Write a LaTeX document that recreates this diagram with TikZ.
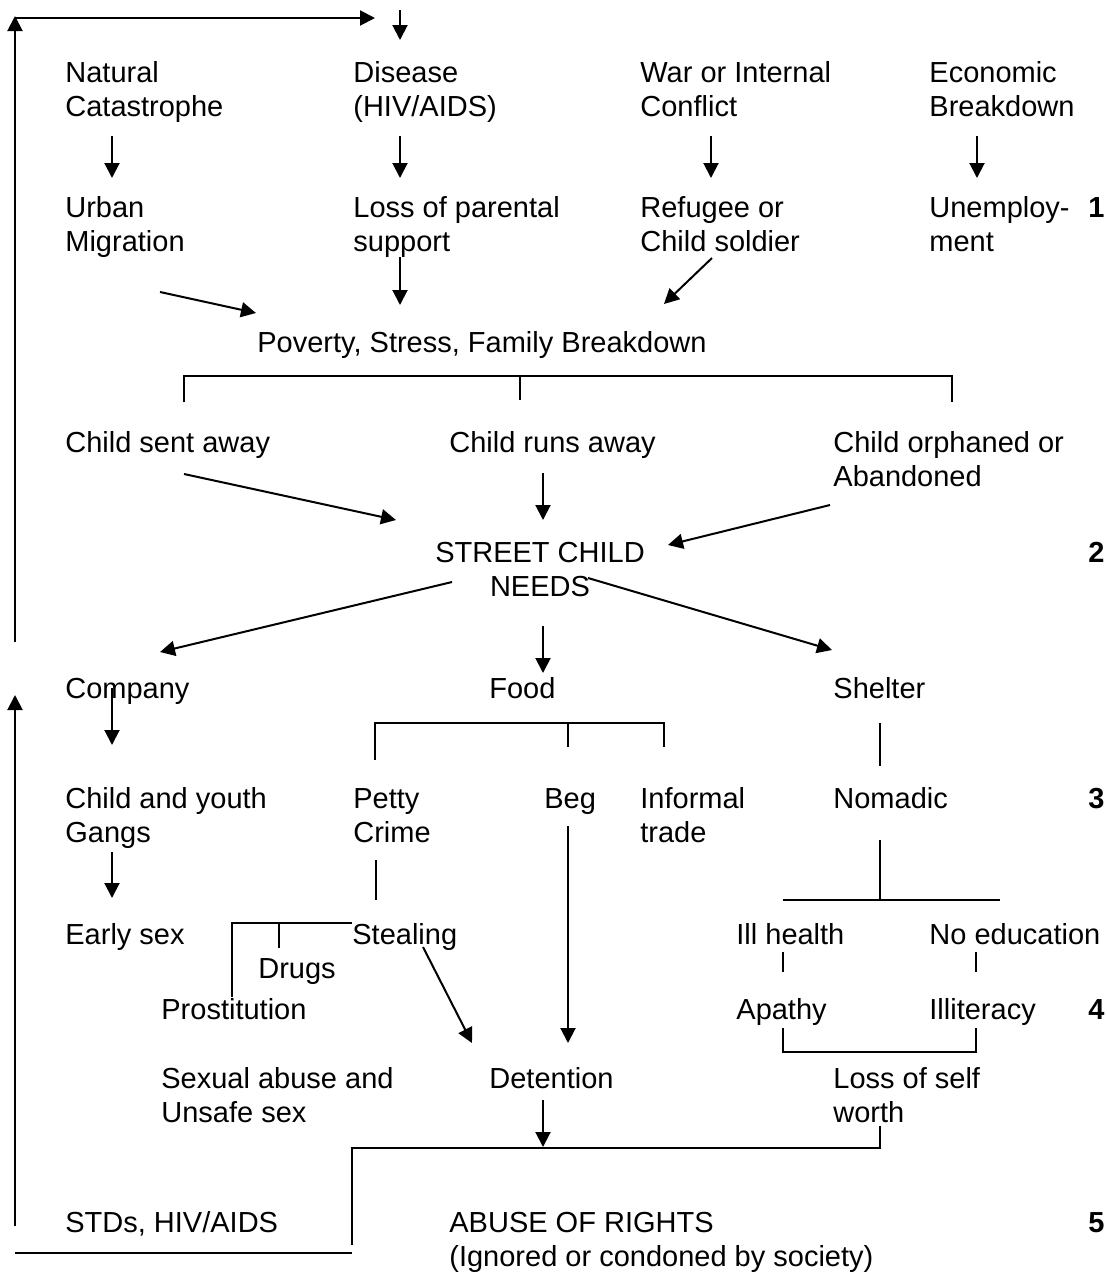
\documentclass[tikz,border=0pt]{standalone}
\usepackage{fontspec}
\setmainfont{Liberation Sans}
\usetikzlibrary{arrows.meta}

\tikzset{
  lbl/.style={anchor=base west, inner sep=0pt, align=left, font=\fontsize{14.5}{17}\selectfont},
  num/.style={anchor=base west, inner sep=0pt, font=\fontsize{14.5}{17}\selectfont\bfseries},
  arr/.style={line width=1pt, -{Triangle[length=7.5pt,width=7.5pt]}},
  ln/.style={line width=1pt},
}

\begin{document}
\begin{tikzpicture}[x=0.5pt,y=-0.5pt]
\useasboundingbox (0,0) rectangle (1107,1275);

% level 1 (multi-line nodes sit on their last baseline)
\node[lbl] (natural) at (65,116) {Natural\\Catastrophe};
\node[lbl] (disease) at (353,116) {Disease\\(HIV/AIDS)};
\node[lbl] (war) at (640,116) {War or Internal\\Conflict};
\node[lbl] (econ) at (929,116) {Economic\\Breakdown};
\node[lbl] (urban) at (65,251) {Urban\\Migration};
\node[lbl] (lossparent) at (353,251) {Loss of parental\\support};
\node[lbl] (refugee) at (640,251) {Refugee or\\Child soldier};
\node[lbl] (unemploy) at (929,251) {Unemploy-\\ment};
\node[num] (n1) at (1088,217) {1};
\node[lbl] (poverty) at (257,352) {Poverty, Stress, Family Breakdown};

% level 2
\node[lbl] (sentaway) at (65,452) {Child sent away};
\node[lbl] (runsaway) at (449,452) {Child runs away};
\node[lbl] (orphaned) at (833,486) {Child orphaned or\\Abandoned};
\node[lbl, anchor=base, align=center] (street) at (540,596) {STREET CHILD\\NEEDS};
\node[num] (n2) at (1088,562) {2};

% level 3
\node[lbl] (company) at (65,698) {Company};
\node[lbl] (food) at (489,698) {Food};
\node[lbl] (shelter) at (833,698) {Shelter};
\node[lbl] (gangs) at (65,842) {Child and youth\\Gangs};
\node[lbl] (petty) at (353,842) {Petty\\Crime};
\node[lbl] (beg) at (544,808) {Beg};
\node[lbl] (informal) at (640,842) {Informal\\trade};
\node[lbl] (nomadic) at (833,808) {Nomadic};
\node[num] (n3) at (1088,808) {3};

% level 4
\node[lbl] (earlysex) at (65,944) {Early sex};
\node[lbl] (stealing) at (352,944) {Stealing};
\node[lbl] (drugs) at (258,978) {Drugs};
\node[lbl] (prostitution) at (161,1019) {Prostitution};
\node[lbl] (illhealth) at (736,944) {Ill health};
\node[lbl] (noedu) at (929,944) {No education};
\node[lbl] (apathy) at (736,1019) {Apathy};
\node[lbl] (illiteracy) at (929,1019) {Illiteracy};
\node[num] (n4) at (1088,1019) {4};
\node[lbl] (sexabuse) at (161,1122) {Sexual abuse and\\Unsafe sex};
\node[lbl] (detention) at (489,1088) {Detention};
\node[lbl] (selfworth) at (833,1122) {Loss of self\\worth};

% level 5
\node[lbl] (stds) at (65,1232) {STDs, HIV/AIDS};
\node[lbl] (abuse) at (449,1266) {ABUSE OF RIGHTS\\(Ignored or condoned by society)};
\node[num] (n5) at (1088,1232) {5};

% connector ends
\foreach \n/\x/\y in {topA/400/10, topB/400/40,
    natS/112/136, urbN/112/178, disS/400/136, lossN/400/178,
    warS/711/136, refN/711/178, ecoS/977/136, uneN/977/178,
    urbS/160/292, povW/256/313, lossS/400/257, povN/400/305,
    refS/712/258, povE/664/304,
    brL/184/402, brLt/184/376, brRt/952/376, brR/952/402, brMt/520/376, brM/520/400,
    sentS/184/474, strW/396/520, runsS/543/473, strN/543/520,
    orphS/830/505, strE/668/545,
    strSW/452/582, compN/160/652, strS/543/626, foodN/543/673,
    strSE/588/578, shelN/832/650,
    compS/112/688, gangN/112/745, gangS/112/852, earlyN/112/898,
    begS/568/826, detNE/568/1043, stealS/423/947, detNW/472/1043,
    detS/543/1100, abuseN/543/1147,
    stdsW/15/1226, compW/15/695,
    loopA/15/642, loopB/15/16, loopC/15/18, loopD/375/18,
    foodL/375/760, foodLt/375/723, foodRt/664/723, foodR/664/747,
    foodMt/568/723, foodM/568/747,
    shelS/880/723, nomN/880/766,
    pettyS/376/860, stealN/376/900,
    stealW/352/923, stealT/232/923, prostN/232/997, drugT/279/923, drugN/279/948,
    nomS/880/840, nomB/880/900, nomL/783/900, nomR/1000/900,
    illS/783/952, apaN/783/972, noeS/976/952, illiN/976/972,
    apaS/783/1028, apaB/783/1052, illiB/976/1052, illiS/976/1028,
    worthS/880/1126, worthB/880/1148, stdsC/352/1148, stdsE/352/1245,
    stdsL/15/1253, stdsR/352/1253}
  \coordinate (\n) at (\x,\y);

% arrows
\foreach \a/\b in {topA/topB, natS/urbN, disS/lossN, warS/refN, ecoS/uneN,
    urbS/povW, lossS/povN, refS/povE,
    sentS/strW, runsS/strN, orphS/strE,
    strSW/compN, strS/foodN, strSE/shelN,
    compS/gangN, gangS/earlyN, begS/detNE, stealS/detNW, detS/abuseN,
    stdsW/compW, loopA/loopB, loopC/loopD}
  \draw[arr] (\a) -- (\b);

% plain lines
\draw[ln] (brL) -- (brLt) -- (brRt) -- (brR);
\draw[ln] (brMt) -- (brM);
\draw[ln] (foodL) -- (foodLt) -- (foodRt) -- (foodR);
\draw[ln] (foodMt) -- (foodM);
\draw[ln] (shelS) -- (nomN);
\draw[ln] (pettyS) -- (stealN);
\draw[ln] (stealW) -- (stealT) -- (prostN);
\draw[ln] (drugT) -- (drugN);
\draw[ln] (nomS) -- (nomB);
\draw[ln] (nomL) -- (nomR);
\draw[ln] (illS) -- (apaN);
\draw[ln] (noeS) -- (illiN);
\draw[ln] (apaS) -- (apaB) -- (illiB) -- (illiS);
\draw[ln] (worthS) -- (worthB) -- (stdsC) -- (stdsE);
\draw[ln] (stdsL) -- (stdsR);
\end{tikzpicture}
\end{document}
